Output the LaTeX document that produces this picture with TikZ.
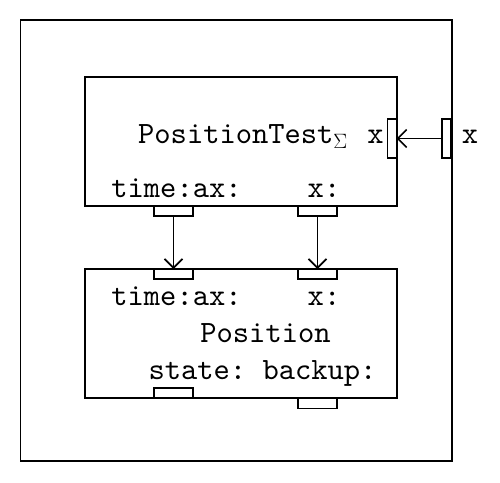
\documentclass[tikz,border=0pt]{standalone}
\usepackage{fontspec}
\setmonofont{lmmono10-regular.otf}
\usetikzlibrary{arrows.meta}
\begin{document}
\begin{tikzpicture}[x=1pt,y=-1pt,
  every node/.style={inner sep=0pt,outer sep=0pt},
  box/.style={draw,line width=1.6pt,rectangle},
  hport/.style={draw,line width=1.6pt,rectangle,minimum width=39pt,minimum height=10pt},
  vport/.style={draw,line width=1.6pt,rectangle,minimum width=9pt,minimum height=39pt},
  lbl/.style={font=\fontsize{31}{36}\selectfont\ttfamily,anchor=base},
  conn/.style={line width=1.6pt,-{Straight Barb[length=9pt,width=18pt,line width=1.6pt]}}]
\useasboundingbox (0,0) rectangle (500,482);
% outer frame
\node[box,minimum width=431.5pt,minimum height=441pt] (outer) at (236.25,240.5) {};
% boxes
\node[box,minimum width=312pt,minimum height=129pt] (top) at (241,141.5) {};
\node[box,minimum width=312pt,minimum height=129pt] (bot) at (241,333.5) {};
% ports
\node[hport] (p1) at (173.5,211) {};
\node[hport] (p2) at (317.5,211) {};
\node[vport] (p3) at (392,138.5) {};
\node[vport] (p4) at (446.5,138.5) {};
\node[hport] (q1) at (173.5,274) {};
\node[hport] (q2) at (317.5,274) {};
\node[hport] (q3) at (173.5,393) {};
\node[hport] (q4) at (317.5,403.5) {};
% labels
\node[lbl] (t1) at (243,143) {PositionTest$_\Sigma$};
\node[lbl] (t2) at (375.5,143) {x};
\node[lbl] (t3) at (470,143) {x};
\node[lbl] (t4) at (176.5,197) {time:ax:};
\node[lbl] (t5) at (324,197) {x:};
\node[lbl] (t6) at (176.5,305) {time:ax:};
\node[lbl] (t7) at (324,305) {x:};
\node[lbl] (t8) at (265.5,342) {Position};
\node[lbl] (t9) at (262.5,379) {state: backup:};
% connectors
\draw[conn] (p4.west) -- (p3.east);
\draw[conn] (p1.south) -- (q1.north);
\draw[conn] (p2.south) -- (q2.north);
\end{tikzpicture}
\end{document}
